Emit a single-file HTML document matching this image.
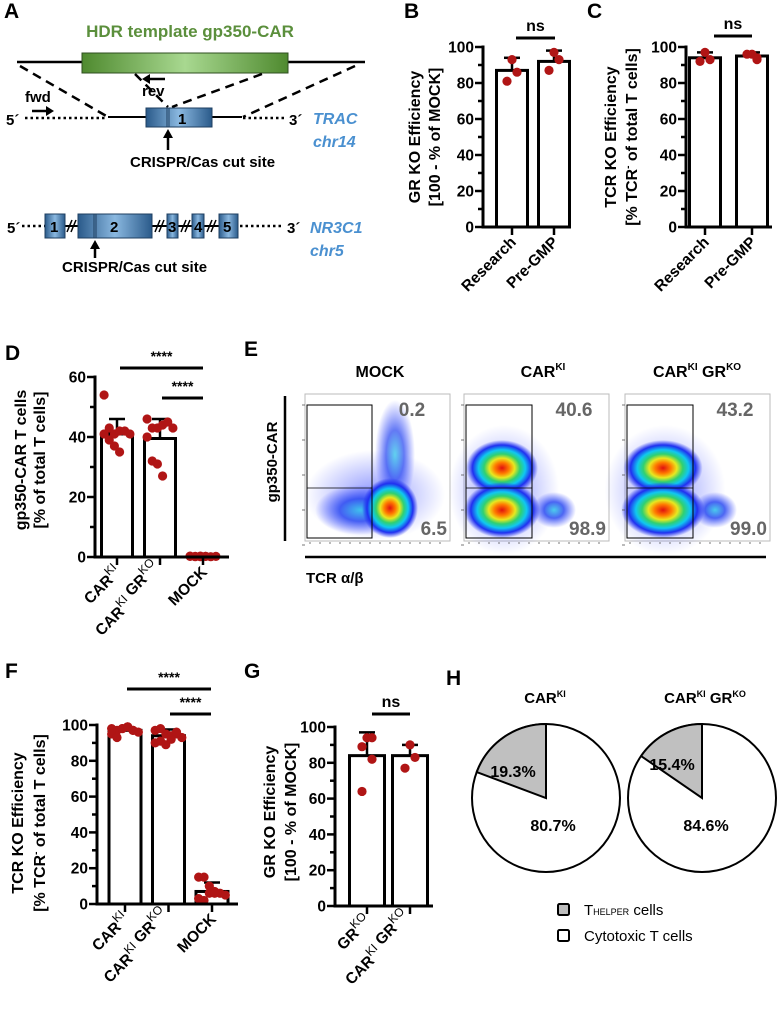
<!DOCTYPE html>
<html><head><meta charset="utf-8"><style>
html,body{margin:0;padding:0;background:#fff}
svg{display:block;font-family:"Liberation Sans",Arial,sans-serif}
.b{font-weight:bold}
</style></head><body>
<svg id="fig" width="780" height="1009" viewBox="0 0 780 1009" xmlns="http://www.w3.org/2000/svg">
<defs>
<linearGradient id="green" x1="0" x2="1"><stop offset="0" stop-color="#4f8a2f"/><stop offset="0.5" stop-color="#a8d890"/><stop offset="1" stop-color="#4f8a2f"/></linearGradient>
<linearGradient id="blue" x1="0" x2="1"><stop offset="0" stop-color="#2a5a8a"/><stop offset="0.5" stop-color="#8ab8e0"/><stop offset="1" stop-color="#2a5a8a"/></linearGradient>
<radialGradient id="heat"><stop offset="0" stop-color="#e01010"/><stop offset="0.2" stop-color="#ff7a00"/><stop offset="0.35" stop-color="#e8e820"/><stop offset="0.5" stop-color="#30d070"/><stop offset="0.65" stop-color="#10c8f0"/><stop offset="0.82" stop-color="#2030f0"/><stop offset="1" stop-color="#2030f0" stop-opacity="0"/></radialGradient>
<radialGradient id="cool"><stop offset="0" stop-color="#20c0e8"/><stop offset="0.45" stop-color="#2040f0"/><stop offset="1" stop-color="#3040ff" stop-opacity="0"/></radialGradient>
<radialGradient id="haze"><stop offset="0" stop-color="#3040ff" stop-opacity="0.55"/><stop offset="1" stop-color="#3040ff" stop-opacity="0"/></radialGradient>
</defs>

<!-- Panel A -->
<g>
<text x="4" y="18" font-size="21" class="b">A</text>
<text x="190" y="37" font-size="17" class="b" fill="#5b8f3c" text-anchor="middle">HDR template gp350-CAR</text>
<line x1="17" y1="62" x2="365" y2="62" stroke="#000" stroke-width="2.5"/>
<rect x="82" y="53" width="206" height="20" fill="url(#green)" stroke="#2f4f20" stroke-width="1"/>
<g stroke="#000" stroke-width="2.5" stroke-dasharray="9,6" fill="none">
<line x1="20" y1="66" x2="108" y2="117"/><line x1="135" y1="74" x2="168" y2="107"/>
<line x1="262" y1="74" x2="172" y2="107"/><line x1="355" y1="66" x2="243" y2="117"/>
</g>
<line x1="165" y1="79" x2="147" y2="79" stroke="#000" stroke-width="2.5"/><polygon points="142,79 150,74 150,84" fill="#000"/>
<text x="142" y="96" font-size="15" class="b">rev</text>
<text x="25" y="102" font-size="15" class="b">fwd</text>
<line x1="32" y1="111" x2="48" y2="111" stroke="#000" stroke-width="2.5"/><polygon points="54,111 46,106 46,116" fill="#000"/>
<text x="6" y="125" font-size="15" class="b">5´</text>
<line x1="25" y1="118" x2="105" y2="118" stroke="#000" stroke-width="2.5" stroke-dasharray="2.5,3"/>
<line x1="108" y1="117" x2="242" y2="117" stroke="#000" stroke-width="2"/>
<line x1="243" y1="118" x2="286" y2="118" stroke="#000" stroke-width="2.5" stroke-dasharray="2.5,3"/>
<rect x="146" y="108" width="66" height="19" fill="url(#blue)" stroke="#1f3f60" stroke-width="1"/>
<line x1="167" y1="108" x2="167" y2="127" stroke="#1f3f60"/><line x1="169" y1="108" x2="169" y2="127" stroke="#1f3f60"/>
<text x="178" y="124" font-size="15" class="b">1</text>
<text x="289" y="125" font-size="15" class="b">3´</text>
<text x="313" y="124" font-size="16" class="b" font-style="italic" fill="#4a90d0">TRAC</text>
<text x="313" y="147" font-size="16" class="b" font-style="italic" fill="#4a90d0">chr14</text>
<line x1="168" y1="150" x2="168" y2="136" stroke="#000" stroke-width="2.5"/><polygon points="168,129 163,138 173,138" fill="#000"/>
<text x="130" y="167" font-size="15" class="b">CRISPR/Cas cut site</text>

<text x="7" y="233" font-size="15" class="b">5´</text>
<line x1="22" y1="226" x2="45" y2="226" stroke="#000" stroke-width="2.5" stroke-dasharray="2.5,3"/>
<line x1="45" y1="226" x2="238" y2="226" stroke="#000" stroke-width="2"/>
<g fill="url(#blue)" stroke="#1f3f60" stroke-width="1">
<rect x="45" y="214" width="20" height="24"/><rect x="78" y="214" width="74" height="24"/>
<rect x="167" y="214" width="11" height="24"/><rect x="192" y="214" width="12" height="24"/><rect x="219" y="214" width="19" height="24"/>
</g>
<line x1="94" y1="214" x2="94" y2="238" stroke="#1f3f60"/><line x1="96" y1="214" x2="96" y2="238" stroke="#1f3f60"/>
<g font-size="15" class="b"><text x="50" y="232">1</text><text x="110" y="232">2</text><text x="168" y="232">3</text><text x="194" y="232">4</text><text x="223" y="232">5</text></g>
<g stroke="#000" stroke-width="1.5"><line x1="67" y1="232" x2="72" y2="220"/><line x1="71" y1="232" x2="76" y2="220"/><line x1="155" y1="232" x2="160" y2="220"/><line x1="159" y1="232" x2="164" y2="220"/><line x1="181" y1="232" x2="186" y2="220"/><line x1="185" y1="232" x2="190" y2="220"/><line x1="207" y1="232" x2="212" y2="220"/><line x1="211" y1="232" x2="216" y2="220"/></g>
<line x1="240" y1="226" x2="284" y2="226" stroke="#000" stroke-width="2.5" stroke-dasharray="2.5,3"/>
<text x="287" y="233" font-size="15" class="b">3´</text>
<text x="310" y="233" font-size="16" class="b" font-style="italic" fill="#4a90d0">NR3C1</text>
<text x="310" y="256" font-size="16" class="b" font-style="italic" fill="#4a90d0">chr5</text>
<line x1="95" y1="258" x2="95" y2="247" stroke="#000" stroke-width="2.5"/><polygon points="95,240 90,249 100,249" fill="#000"/>
<text x="62" y="272" font-size="15" class="b">CRISPR/Cas cut site</text>
</g>

<g id="charts"></g>

<!-- Panel E -->
<g>
<text x="244" y="356" font-size="21" class="b">E</text>
<text x="380" y="377" font-size="16" class="b" text-anchor="middle">MOCK</text>
<text x="543" y="377" font-size="16" class="b" text-anchor="middle">CAR<tspan font-size="10" dy="-7">KI</tspan></text>
<text x="697" y="377" font-size="16" class="b" text-anchor="middle">CAR<tspan font-size="10" dy="-7">KI</tspan><tspan dy="7"> GR</tspan><tspan font-size="10" dy="-7">KO</tspan></text>
<line x1="285" y1="396" x2="285" y2="541" stroke="#000" stroke-width="2.5"/>
<text transform="translate(277,462) rotate(-90)" font-size="15" class="b" text-anchor="middle">gp350-CAR</text>
<line x1="305" y1="557" x2="766" y2="557" stroke="#000" stroke-width="2.5"/>
<text x="306" y="583" font-size="15" class="b">TCR α/β</text>
<g id="flow"></g>
</g>

<!-- Panel H -->
<g>
<text x="446" y="685" font-size="21" class="b">H</text>
<text x="545" y="703" font-size="15" class="b" text-anchor="middle">CAR<tspan font-size="9" dy="-6">KI</tspan></text>
<text x="705" y="703" font-size="15" class="b" text-anchor="middle">CAR<tspan font-size="9" dy="-6">KI</tspan><tspan dy="6"> GR</tspan><tspan font-size="9" dy="-6">KO</tspan></text>
<g id="pies"></g>
<rect x="558" y="904" width="11" height="11" rx="1.5" fill="#bdbdbd" stroke="#000" stroke-width="2"/>
<text x="584" y="915" font-size="15">T<tspan font-size="9">HELPER</tspan> cells</text>
<rect x="558" y="930" width="11" height="11" rx="1.5" fill="#fff" stroke="#000" stroke-width="2"/>
<text x="584" y="941" font-size="15">Cytotoxic T cells</text>
</g>
</svg>
<script>
// ---- data ----
const bCats = ["Research", "Pre-GMP"];
const bMeans = [87, 92];
const bErr = [94, 98];
const bPoints = [[93, 86, 81], [97, 93, 87]];

const cCats = ["Research", "Pre-GMP"];
const cMeans = [94, 95];
const cErr = [97, 97];
const cPoints = [[97, 93, 92], [96, 94, 96, 93]];

const dCats = ["CAR^KI", "CAR^KI GR^KO", "MOCK"];
const dMeans = [41, 39.5, 0.2];
const dErr = [46, 46, 0.5];
const dPoints = [[54, 43, 41, 42, 42, 41, 41, 39, 37, 35], [46, 43, 43, 44, 45, 43, 40, 32, 31, 27], [0.2, 0.1, 0.3, 0.2, 0.1, 0.2, 0.3, 0.2, 0.1, 0.2]];

const fCats = ["CAR^KI", "CAR^KI GR^KO", "MOCK"];
const fMeans = [97, 94, 7];
const fErr = [98.5, 97.5, 12];
const fPoints = [[98, 97, 98, 99, 97, 96, 95, 93, 98, 99, 97], [97, 98, 95, 94, 95, 93, 90, 91, 89, 92, 96], [15, 15, 6, 7, 6, 5, 3, 2, 10, 6]];

const gCats = ["GR^KO", "CAR^KI GR^KO"];
const gMeans = [84, 84];
const gErr = [97, 90];
const gPoints = [[94, 94, 89, 82, 64], [90, 83, 77]];

const pieTitles = ["CAR^KI", "CAR^KI GR^KO"];
const pieHelper = [19.3, 15.4];
const pieCytotoxic = [80.7, 84.6];

const flowTopPct = ["0.2", "40.6", "43.2"];
const flowBotPct = ["6.5", "98.9", "99.0"];

// ---- helpers ----
const NS = "http://www.w3.org/2000/svg";
function mk(tag, attrs, parent) {
  const e = document.createElementNS(NS, tag);
  for (const k in attrs) e.setAttribute(k, attrs[k]);
  if (parent) parent.appendChild(e);
  return e;
}
function richText(t, str, supSize) {
  const parts = str.split(" ");
  parts.forEach((p, pi) => {
    const [base, sup] = p.split("^");
    const a = mk("tspan", {}, t); a.textContent = (pi ? " " : "") + base;
    if (sup) {
      const s = mk("tspan", {"font-size": supSize, "font-weight": "normal", "dy": -7}, t); s.textContent = sup;
      const r = mk("tspan", {"dy": 7}, t); r.textContent = "";
    }
  });
}

function barChart(o) {
  const root = document.getElementById("charts");
  const g = mk("g", {}, root);
  
  
  const y = v => o.yBot - (v / o.max) * (o.yBot - o.yTop);
  const xc = i => o.c0 + i * o.step;
  const lab = mk("text", {x: o.lx, y: o.ly, "font-size": 21, "font-weight": "bold"}, g);
  lab.textContent = o.letter;
  
  
  o.means.forEach((m, i) => {
    const r = mk("rect", {x: xc(i) - o.bw / 2, y: y(m), width: o.bw, height: o.yBot - y(m), fill: "#fff", stroke: "#000", "stroke-width": 3}, g);
    
    
  });
  o.errs.forEach((e, i) => {
    mk("line", {x1: xc(i), x2: xc(i), y1: y(o.means[i]), y2: y(e), stroke: "#000", "stroke-width": 2.5}, g);
    mk("line", {x1: xc(i) - 8, x2: xc(i) + 8, y1: y(e), y2: y(e), stroke: "#000", "stroke-width": 2.5}, g);
  });
  o.points.forEach((arr, i) => {
    const n = arr.length;
    arr.forEach((v, j) => {
      const off = n <= 5 ? (j % 2 ? 5 : -5) * (j === 0 ? 0 : 1) : ((j % 6) - 2.5) * (o.bw / 6);
      const c = mk("circle", {cx: xc(i) + off, cy: y(v), r: 4.6, fill: "#b01515"}, g);
      
      
    });
  });
  mk("line", {x1: o.ax, x2: o.ax, y1: o.yTop - 1.5, y2: o.yBot + 1.5, stroke: "#000", "stroke-width": 3}, g);
  mk("line", {x1: o.ax - 1.5, x2: o.axEnd, y1: o.yBot, y2: o.yBot, stroke: "#000", "stroke-width": 3}, g);
  for (let v = 0; v <= o.max; v += o.minor) {
    const major = Math.abs(v / o.major - Math.round(v / o.major)) < 1e-6;
    mk("line", {x1: o.ax - (major ? 8 : 5), x2: o.ax, y1: y(v), y2: y(v), stroke: "#000", "stroke-width": 2.5}, g);
    if (major) {
      const t = mk("text", {x: o.ax - 9, y: y(v) + 5.5, "font-size": 15.5, "font-weight": "bold", "text-anchor": "end"}, g);
      t.textContent = v;
      
      
    }
  }
  o.cats.forEach((c, i) => {
    mk("line", {x1: xc(i), x2: xc(i), y1: o.yBot, y2: o.yBot + 8, stroke: "#000", "stroke-width": 2.5}, g);
    const t = mk("text", {"font-size": 15.5, "font-weight": "bold", "text-anchor": "end", transform: `translate(${xc(i) + 5},${o.yBot + 16}) rotate(-45)`}, g);
    richText(t, c, 12);
    
    
  });
  o.title.forEach((line, k) => {
    const t = mk("text", {"font-size": 16, "font-weight": "bold", "text-anchor": "middle", transform: `translate(${o.tx[k]},${o.ty}) rotate(-90)`}, g);
    if (line.includes("TCR-")) {
      const a = mk("tspan", {}, t); a.textContent = "[% TCR";
      const s = mk("tspan", {"font-size": 10, dy: -6}, t); s.textContent = "-";
      const b = mk("tspan", {dy: 6}, t); b.textContent = " of total T cells]";
    } else t.textContent = line;
    
    
  });
  o.sig.forEach(s => {
    mk("line", {x1: s.x1, x2: s.x2, y1: s.y, y2: s.y, stroke: "#000", "stroke-width": 3}, g);
    const t = mk("text", {x: (s.x1 + s.x2) / 2, y: s.y - 7, "font-size": s.txt === "ns" ? 16 : 14, "font-weight": "bold", "text-anchor": "middle"}, g);
    t.textContent = s.txt;
    
    
  });
}

barChart({name: "panel-b-chart", letter: "B", lx: 404, ly: 18, cats: bCats, means: bMeans, errs: bErr, points: bPoints,
  ax: 483, axEnd: 571, yTop: 47, yBot: 227, max: 100, major: 20, minor: 10, c0: 512, step: 42, bw: 31,
  title: ["GR KO Efficiency", "[100 - % of MOCK]"], tx: [420, 440], ty: 137,
  sig: [{x1: 516, x2: 555, y: 38, txt: "ns"}]});
barChart({name: "panel-c-chart", letter: "C", lx: 587, ly: 18, cats: cCats, means: cMeans, errs: cErr, points: cPoints,
  ax: 686, axEnd: 772, yTop: 47, yBot: 227, max: 100, major: 20, minor: 10, c0: 705, step: 47, bw: 31,
  title: ["TCR KO Efficiency", "TCR-"], tx: [616, 637], ty: 137,
  sig: [{x1: 714, x2: 752, y: 36, txt: "ns"}]});
barChart({name: "panel-d-chart", letter: "D", lx: 5, ly: 360, cats: dCats, means: dMeans, errs: dErr, points: dPoints,
  ax: 95, axEnd: 229, yTop: 377, yBot: 557, max: 60, major: 20, minor: 10, c0: 117, step: 43, bw: 31,
  title: ["gp350-CAR T cells", "[% of total T cells]"], tx: [26, 45], ty: 460,
  sig: [{x1: 120, x2: 203, y: 368, txt: "****"}, {x1: 162, x2: 203, y: 398, txt: "****"}]});
barChart({name: "panel-f-chart", letter: "F", lx: 5, ly: 678, cats: fCats, means: fMeans, errs: fErr, points: fPoints,
  ax: 97, axEnd: 238, yTop: 725, yBot: 904, max: 100, major: 20, minor: 10, c0: 125, step: 43.5, bw: 32,
  title: ["TCR KO Efficiency", "TCR-"], tx: [23, 45], ty: 823,
  sig: [{x1: 127, x2: 211, y: 689, txt: "****"}, {x1: 170, x2: 211, y: 714, txt: "****"}]});
barChart({name: "panel-g-chart", letter: "G", lx: 244, ly: 678, cats: gCats, means: gMeans, errs: gErr, points: gPoints,
  ax: 335, axEnd: 433, yTop: 727, yBot: 906, max: 100, major: 20, minor: 10, c0: 367, step: 43, bw: 35,
  title: ["GR KO Efficiency", "[100 - % of MOCK]"], tx: [275, 296], ty: 812,
  sig: [{x1: 372, x2: 410, y: 714, txt: "ns"}]});

// ---- flow plots ----
(function () {
  const fl = document.getElementById("flow");
  const xs = [305, 464, 625];
  xs.forEach((x0, i) => {
    const g = mk("g", {}, fl);
    
    
    mk("rect", {x: x0, y: 394, width: 145, height: 147, fill: "#fff", stroke: "#bbb", "stroke-width": 1}, g);
    if (i === 0) {
      mk("ellipse", {cx: x0 + 70, cy: 495, rx: 70, ry: 45, fill: "url(#haze)"}, g);
      mk("ellipse", {cx: x0 + 90, cy: 455, rx: 20, ry: 55, fill: "url(#cool)", opacity: 0.7}, g);
      mk("ellipse", {cx: x0 + 55, cy: 510, rx: 45, ry: 25, fill: "url(#cool)", opacity: 0.8}, g);
      mk("ellipse", {cx: x0 + 85, cy: 508, rx: 28, ry: 30, fill: "url(#heat)"}, g);
    } else {
      const s = i === 2 ? 1.1 : 1;
      mk("ellipse", {cx: x0 + 40, cy: 490, rx: 55 * s, ry: 65, fill: "url(#haze)"}, g);
      mk("ellipse", {cx: x0 + 90, cy: 510, rx: 22, ry: 18, fill: "url(#cool)", opacity: 0.8}, g);
      mk("ellipse", {cx: x0 + 38, cy: 468, rx: 36 * s, ry: 28, fill: "url(#heat)"}, g);
      mk("ellipse", {cx: x0 + 38, cy: 510, rx: 38 * s, ry: 28, fill: "url(#heat)"}, g);
    }
    const gx = i === 0 ? x0 + 67 : x0 + 68;
    mk("rect", {x: x0 + 2, y: 405, width: gx - x0 - 2, height: 133, fill: "none", stroke: "#000", "stroke-width": 1}, g);
    mk("line", {x1: x0 + 2, x2: gx, y1: 488, y2: 488, stroke: "#000", "stroke-width": 0.8}, g);
    const t1 = mk("text", {x: x0 + (i === 0 ? 107 : 110), y: 416, "font-size": 19, "font-weight": "bold", fill: "#666", "text-anchor": "middle"}, g);
    t1.textContent = flowTopPct[i];
    
    
    const t2 = mk("text", {x: x0 + 142, y: 535, "font-size": 19, "font-weight": "bold", fill: "#666", "text-anchor": "end"}, g);
    t2.textContent = flowBotPct[i];
    
    
    for (let k = 0; k < 14; k++) mk("line", {x1: x0 + 5 + k * 10, x2: x0 + 5 + k * 10, y1: 542, y2: 544, stroke: "#555", "stroke-width": 0.8}, g);
    for (let k = 0; k < 5; k++) mk("line", {x1: x0 - 3, x2: x0, y1: 405 + k * 35, y2: 405 + k * 35, stroke: "#555", "stroke-width": 0.8}, g);
  });
})();

// ---- pies ----
(function () {
  const pg = document.getElementById("pies");
  const cx = [546, 702], cy = 798, r = 74;
  const labPos = [[[513, 777], [553, 831]], [[672, 770], [706, 831]]];
  pieHelper.forEach((h, i) => {
    const g = mk("g", {}, pg);
    
    
    const total = pieHelper[i] + pieCytotoxic[i];
    const a = -Math.PI / 2 - (h / total) * 2 * Math.PI;
    const c = mk("circle", {cx: cx[i], cy: cy, r: r, fill: "#fff", stroke: "#000", "stroke-width": 2}, g);
    
    
    const ex = cx[i] + r * Math.cos(a), ey = cy + r * Math.sin(a);
    const p = mk("path", {d: `M${cx[i]},${cy} L${cx[i]},${cy - r} A${r},${r} 0 0 0 ${ex},${ey} Z`, fill: "#c0c0c0", stroke: "#000", "stroke-width": 2}, g);
    
    
    const t1 = mk("text", {x: labPos[i][0][0], y: labPos[i][0][1], "font-size": 16, "font-weight": "bold", "text-anchor": "middle"}, g);
    t1.textContent = pieHelper[i].toFixed(1) + "%";
    const t2 = mk("text", {x: labPos[i][1][0], y: labPos[i][1][1], "font-size": 16, "font-weight": "bold", "text-anchor": "middle"}, g);
    t2.textContent = pieCytotoxic[i].toFixed(1) + "%";
  });
})();
</script>
</body></html>
